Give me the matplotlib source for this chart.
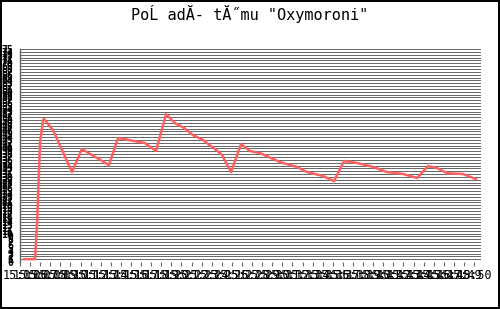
import matplotlib
matplotlib.use("Agg")
import matplotlib.pyplot as plt
import matplotlib.dates as mdates
import pandas as pd
import numpy as np

title = 'PoĹ adĂ- tĂ˝mu "Oxymoroni"'

times = ["15:05:24", "15:06:29", "15:06:41", "15:06:59", "15:07:17", "15:07:23",
         "15:08:16", "15:10:09", "15:11:08", "15:13:49", "15:14:43", "15:17:23",
         "15:18:29", "15:19:28", "15:20:22", "15:21:09", "15:22:09", "15:23:08",
         "15:24:49", "15:25:01", "15:25:55", "15:26:54", "15:27:48", "15:28:47",
         "15:30:46", "15:32:27", "15:33:26", "15:35:02", "15:36:07", "15:37:07",
         "15:38:24", "15:39:59", "15:41:22", "15:42:58", "15:44:21", "15:45:26",
         "15:46:20", "15:47:19", "15:48:54", "15:50:11"]
values = [1, 1, 13, 42, 50, 50.4,
          46.5, 31.7, 39.8, 34.2, 43.7, 41.9,
          39.1, 52.1, 48.9, 47.5, 44.7, 43,
          38.4, 37.7, 31.7, 41.5, 39.1, 38.4,
          35.2, 33.5, 31.7, 30.3, 28.5, 35.6,
          34.9, 33.5, 31.7, 31, 29.6, 33.8,
          33.1, 31.3, 31, 29.2]

y_ticks = list(range(0, 76))
x_start = "15:05:00"
x_end = "15:50:41"

day = "2000-01-01 "
t = pd.to_datetime([day + s for s in times])
xmin = pd.to_datetime(day + x_start)
xmax = pd.to_datetime(day + x_end)
x_ticks = pd.date_range(xmin, pd.to_datetime(day + "15:50:00"), freq="1min")

fig = plt.figure(figsize=(5.0, 3.09), dpi=100)
fig.patch.set_facecolor("white")
fig.patch.set_edgecolor("black")
fig.patch.set_linewidth(1.5)

ax = fig.add_axes([0.04, 0.152, 0.922, 0.689])
ax.set_facecolor("white")
for s in ["top", "right", "bottom"]:
    ax.spines[s].set_visible(False)
ax.spines["left"].set_color("#666666")
ax.spines["left"].set_linewidth(1)

ax.set_ylim(0, 75)
ax.set_yticks(y_ticks)
ax.set_yticklabels([str(v) for v in y_ticks], fontsize=7, family="DejaVu Sans Mono",
                   fontweight="bold")
ax.tick_params(axis="y", length=0, pad=5)
for yv in y_ticks:
    ax.axhline(yv, color="#6a6a6a", linewidth=0.72, zorder=1, antialiased=False)

ax.set_xlim(xmin, xmax)
ax.set_xticks(x_ticks)
ax.xaxis.set_major_formatter(mdates.DateFormatter("%H:%M"))
ax.tick_params(axis="x", length=3, color="#666666", pad=2, labelsize=8.5)
for lbl in ax.get_xticklabels():
    lbl.set_family("DejaVu Sans Mono")

ax.plot(t, values, color="#ff6060", linewidth=1.8, zorder=3)

fig.text(0.5, 0.955, title, ha="center", va="center", fontsize=11,
         family="DejaVu Sans Mono")

fig.savefig("out.png", dpi=100)
